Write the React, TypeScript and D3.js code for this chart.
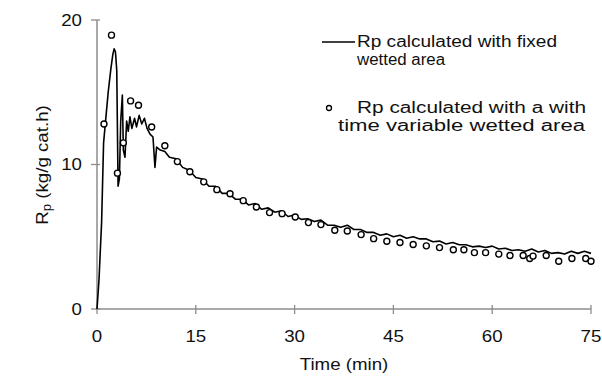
import React from "react";
import * as d3 from "d3";

const W = 602;
const H = 380;

// Rp calculated with fixed wetted area (line)
const lineTime = [
  0, 0.3, 0.7, 1.0, 1.4, 1.7, 2.1, 2.4, 2.6, 2.8, 3.0, 3.2, 3.4, 3.6, 3.85, 4.0, 4.25, 4.5, 4.75, 5.0,
  5.3, 5.7, 6.0, 6.4, 6.8, 7.2, 7.6, 8.05, 8.5, 8.8, 9.05, 9.6, 10.3, 11, 12, 13, 14, 15, 16, 17, 18,
  19, 20, 21, 22, 23, 24, 25, 26, 27, 28, 29, 30, 31, 32, 33, 34, 35, 36, 37, 38, 39, 40, 41, 42, 43,
  44, 45, 46, 47, 48, 49, 50, 51, 52, 53, 54, 55, 56, 57, 58, 59, 60, 61, 62, 63, 64, 65, 66, 67, 68,
  69, 70, 71, 72, 73, 74, 75,
];
const lineRp = [
  0, 2, 6, 11.5, 13.5, 15, 16.6, 17.6, 18.0, 17.8, 16.5, 8.5, 9, 13, 14.8, 11, 10.5, 13, 12.3, 13.3,
  12.5, 13.2, 12.6, 13.4, 12.8, 13.2, 12.5, 12.1, 11.9, 9.8, 11.2, 11.0, 10.9, 10.5, 10.4, 9.8, 9.6,
  9.1, 9.0, 8.5, 8.5, 8.0, 8.0, 7.6, 7.6, 7.2, 7.3, 6.9, 7.0, 6.7, 6.8, 6.4, 6.5, 6.2, 6.25, 6.05, 6.15,
  5.8, 5.8, 5.65, 5.8, 5.5, 5.5, 5.3, 5.3, 5.1, 5.2, 5.0, 5.1, 4.9, 5.0, 4.85, 4.85, 4.65, 4.7, 4.5,
  4.6, 4.45, 4.45, 4.3, 4.35, 4.25, 4.35, 4.15, 4.2, 4.05, 4.1, 4.0, 4.15, 3.95, 4.05, 3.85, 3.9, 3.8,
  4.0, 3.85, 4.0, 3.85,
];

// Rp calculated with time variable wetted area (circles)
const pointTime = [
  1.06, 2.2, 3.1, 4.0, 5.1, 6.3, 8.3, 10.3, 12.2, 14.1, 16.2, 18.2, 20.2, 22.2, 24.2, 26.2, 28.1, 30.1,
  32.1, 34.0, 36.1, 38.0, 40.1, 42.0, 44.0, 46.0, 48.0, 50.0, 52.0, 54.1, 55.7, 57.3, 59.0, 61.0, 62.7,
  64.7, 65.7, 66.2, 68.2, 70.1, 72.1, 74.2, 75.0,
];
const pointRp = [
  12.8, 18.95, 9.4, 11.5, 14.4, 14.1, 12.6, 11.3, 10.2, 9.5, 8.8, 8.26, 7.98, 7.5, 7.06, 6.67, 6.6, 6.37,
  5.98, 5.84, 5.45, 5.4, 5.15, 4.87, 4.69, 4.6, 4.46, 4.37, 4.25, 4.1, 4.1, 3.9, 3.9, 3.8, 3.7, 3.7, 3.5,
  3.66, 3.7, 3.3, 3.5, 3.5, 3.3,
];

const xTicks = [0, 15, 30, 45, 60, 75];
const yTicks = [0, 10, 20];

const FONT = "'Liberation Sans', Arial, sans-serif";

export default function App() {
  const x = d3.scaleLinear().domain([0, 75]).range([97, 591]);
  const y = d3.scaleLinear().domain([0, 20]).range([309, 20]);

  const lineData = lineTime.map((t, i) => [t, lineRp[i]] as [number, number]);
  const pts = pointTime.map((t, i) => [t, pointRp[i]] as [number, number]);
  const path = d3
    .line<[number, number]>()
    .x((d) => x(d[0]))
    .y((d) => y(d[1]))(lineData);

  const axisColor = "#8c8c8c";
  const textStyle = { fontFamily: FONT, fontSize: 17, fill: "#111" } as const;
  const legendStyle = { fontFamily: FONT, fontSize: 16, fill: "#111" } as const;

  return (
    <svg
      width={W}
      height={H}
      style={{ position: "absolute", left: 0, top: 0, background: "#fff" }}
    >
      {/* axes */}
      <line x1={x(0)} x2={x(75)} y1={y(0)} y2={y(0)} stroke={axisColor} strokeWidth={1.5} />
      <line x1={x(0)} x2={x(0)} y1={y(0)} y2={y(20)} stroke={axisColor} strokeWidth={1.5} />
      {yTicks.map((v) => (
        <g key={"y" + v}>
          <line x1={x(0) - 6} x2={x(0) + 3} y1={y(v)} y2={y(v)} stroke={axisColor} strokeWidth={1.3} />
          <text
            x={82}
            y={y(v) + 6}
            textAnchor="end"
            style={textStyle}
            transform={`translate(82,0) scale(1.1,1) translate(-82,0)`}
          >
            {v}
          </text>
        </g>
      ))}
      {xTicks.map((v) => (
        <g key={"x" + v}>
          <line x1={x(v)} x2={x(v)} y1={y(0) - 4} y2={y(0) + 5} stroke={axisColor} strokeWidth={1.3} />
          <text
            x={x(v)}
            y={342}
            textAnchor="middle"
            style={textStyle}
            transform={`translate(${x(v)},0) scale(1.1,1) translate(${-x(v)},0)`}
          >
            {v}
          </text>
        </g>
      ))}
      <text
        x={344}
        y={370}
        textAnchor="middle"
        style={textStyle}
        transform={`translate(344,0) scale(1.1,1) translate(-344,0)`}
      >
        Time (min)
      </text>
      <text
        transform="translate(48,165) rotate(-90) scale(1.1,1)"
        textAnchor="middle"
        style={textStyle}
      >
        R<tspan fontSize={12} dy={3}>p</tspan>
        <tspan dy={-3}> (kg/g cat.h)</tspan>
      </text>

      {/* data */}
      <path d={path ?? ""} fill="none" stroke="#000" strokeWidth={1.6} strokeLinejoin="round" />
      {pts.map((d, i) => (
        <circle key={i} cx={x(d[0])} cy={y(d[1])} r={3} fill="#fff" stroke="#000" strokeWidth={1.4} />
      ))}

      {/* legend */}
      <line x1={322} x2={355} y1={42} y2={42} stroke="#000" strokeWidth={1.3} />
      <text x={357} y={47} style={legendStyle} textLength={200} lengthAdjust="spacingAndGlyphs">
        Rp calculated with fixed
      </text>
      <text x={357} y={65} style={legendStyle} textLength={88} lengthAdjust="spacingAndGlyphs">
        wetted area
      </text>
      <circle cx={329} cy={108} r={2.5} fill="#fff" stroke="#000" strokeWidth={1.3} />
      <text x={357} y={113} style={legendStyle} textLength={229} lengthAdjust="spacingAndGlyphs">
        Rp calculated with a with
      </text>
      <text x={338} y={131} style={legendStyle} textLength={247} lengthAdjust="spacingAndGlyphs">
        time variable wetted area
      </text>
    </svg>
  );
}
